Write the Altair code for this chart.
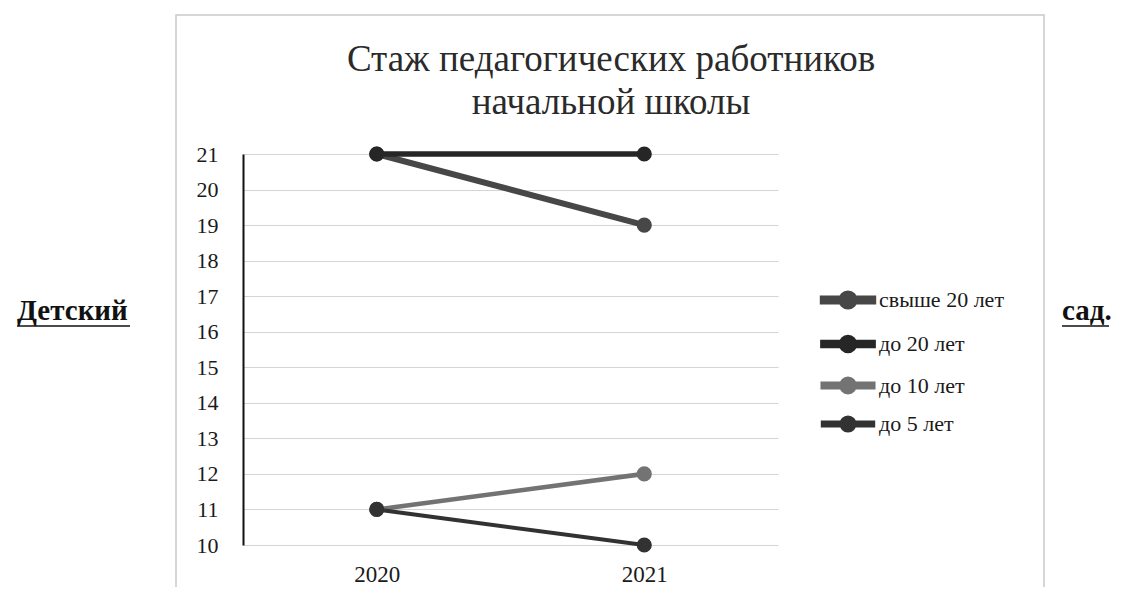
import altair as alt
import pandas as pd

years = ["2020", "2021"]
series = ["свыше 20 лет", "до 20 лет", "до 10 лет", "до 5 лет"]
v_over20 = [21, 19]
v_upto20 = [21, 21]
v_upto10 = [11, 12]
v_upto5 = [11, 10]
colors = ["#474747", "#262626", "#737373", "#323232"]
widths = [6, 4, 6, 6]
title_lines = ["Стаж педагогических работников", "начальной школы"]
y_ticks = list(range(10, 22))

rows = []
for s, vals in zip(series, [v_over20, v_upto20, v_upto10, v_upto5]):
    for yr, v in zip(years, vals):
        rows.append({"year": yr, "series": s, "value": v})
df = pd.DataFrame(rows)

FONT = "Liberation Serif"

x_enc = alt.X("year:O", scale=alt.Scale(type="point", padding=0.5), title=None,
              axis=alt.Axis(labelAngle=0, domain=False, ticks=False, grid=False,
                            labelFontSize=23, labelPadding=18, labelFont=FONT,
                            labelColor="#1a1a1a"))
y_enc = alt.Y("value:Q", scale=alt.Scale(domain=[10, 21], nice=False, zero=False), title=None,
              axis=alt.Axis(values=y_ticks, tickCount=12, domain=True, domainColor="#111", domainWidth=2,
                            ticks=False, grid=True, gridColor="#d4d4d4", gridWidth=1.2,
                            labelOverlap=False, labelBound=False, labelFlush=False,
                            labelFontSize=22, labelPadding=25, labelFont=FONT,
                            labelColor="#1a1a1a"))
color_enc = alt.Color("series:N", scale=alt.Scale(domain=series, range=colors),
                      sort=series, title=None,
                      legend=alt.Legend(orient="none", legendX=590, legendY=131,
                                        symbolType="M-2.1,-0.13 L2.1,-0.13 L2.1,0.13 L-2.1,0.13 Z M-0.55,0 A0.55,0.55 0 1,1 0.55,0 A0.55,0.55 0 1,1 -0.55,0 Z",
                                        symbolSize=576, symbolStrokeWidth=0,
                                        labelFontSize=22, labelFont=FONT, labelColor="#1a1a1a",
                                        labelOffset=16, rowPadding=7))

base = alt.Chart(df).encode(x=x_enc, y=y_enc, color=color_enc)
lines = base.mark_line().encode(
    strokeWidth=alt.StrokeWidth("series:N", scale=alt.Scale(domain=series, range=widths), legend=None),
)
points = base.mark_point(filled=True, opacity=1, size=230, shape="circle")

one = pd.DataFrame({"k": [0]})
frame = alt.Chart(one).mark_rect(filled=False, stroke="#c9c9c9", strokeWidth=1.5).encode(
    x=alt.value(-67), x2=alt.value(801), y=alt.value(-139), y2=alt.value(470)
)
title_mark = alt.Chart(one).mark_text(text=title_lines, font=FONT, fontSize=37, lineHeight=43,
                                      align="center", baseline="alphabetic", color="#2a2a2a").encode(
    x=alt.value(368), y=alt.value(-83)
)
left_txt = alt.Chart(one).mark_text(text="Детский", font=FONT, fontWeight="bold", fontSize=29,
                                   align="left", baseline="alphabetic", color="#111").encode(
    x=alt.value(-226), y=alt.value(166)
)
left_ul = alt.Chart(one).mark_rule(color="#111", strokeWidth=1.6).encode(
    x=alt.value(-226), x2=alt.value(-113), y=alt.value(172)
)
right_txt = alt.Chart(one).mark_text(text="сад.", font=FONT, fontWeight="bold", fontSize=29,
                                    align="left", baseline="alphabetic", color="#111").encode(
    x=alt.value(819), y=alt.value(166)
)
right_ul = alt.Chart(one).mark_rule(color="#111", strokeWidth=1.6).encode(
    x=alt.value(819), x2=alt.value(866), y=alt.value(172)
)

chart = alt.layer(frame, title_mark, lines, points, left_txt, left_ul, right_txt, right_ul).properties(
    width=535, height=391,
    autosize=alt.AutoSizeParams(type="none"),
    padding={"left": 235, "top": 146, "right": 335, "bottom": 42},
    background="white",
).configure_view(stroke=None)

chart.save("out.html", embed_options={"renderer": "svg", "actions": False})
